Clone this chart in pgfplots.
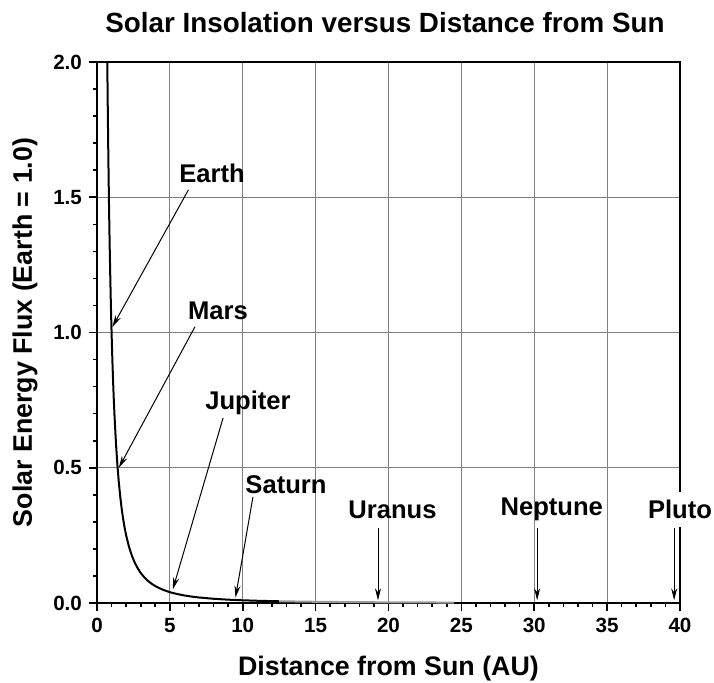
\documentclass[border=0pt]{standalone}
\usepackage{fontspec}
\setmainfont{Liberation Sans}
\usepackage{pgfplots}
\pgfplotsset{compat=1.18}
\usetikzlibrary{arrows.meta}
\begin{document}
\begin{tikzpicture}
\path[use as bounding box] (-48.5pt,-39.5pt) rectangle (308.5pt,301.5pt);
\begin{axis}[
  at={(0,0)}, anchor=south west,
  scale only axis, width=291.5pt, height=270.5pt,
  xmin=0, xmax=40, ymin=0, ymax=2,
  xtick={0,5,10,15,20,25,30,35,40}, ytick={0,0.5,1,1.5,2},
  minor x tick num=4, minor y tick num=4,
  xtick pos=bottom, ytick pos=left,
  tick align=outside, major tick length=4pt, minor tick length=2pt,
  xmajorgrids, ymajorgrids,
  grid style={black!50, line width=0.6pt},
  axis line style={line width=1pt},
  tick style={black, line width=0.8pt},
  /pgf/number format/assume math mode=true,
  yticklabel style={/pgf/number format/fixed, /pgf/number format/fixed zerofill, /pgf/number format/precision=1},
  ticklabel style={font=\fontsize{10.3}{12}\selectfont\bfseries},
  title={Solar Insolation versus Distance from Sun},
  title style={at={(axis description cs:0.494,1.0499)}, anchor=center, font=\fontsize{13.9}{16}\selectfont\bfseries},
  xlabel={Distance from Sun (AU)},
  xlabel style={at={(axis description cs:0.5,-0.122)}, anchor=center, font=\fontsize{13.4}{15}\selectfont\bfseries},
  ylabel={Solar Energy Flux (Earth = 1.0)},
  ylabel style={at={(axis description cs:-0.1235,0.5)}, anchor=center, font=\fontsize{13.4}{15}\selectfont\bfseries},
  clip=false,
]
\addplot[black, line width=1pt] coordinates {
(0.7071,2.000) (0.72,1.929) (0.74,1.826) (0.76,1.731) (0.78,1.644) (0.80,1.5625)
(0.825,1.469) (0.85,1.384) (0.875,1.306) (0.9,1.235) (0.95,1.108) (1.0,1.0)
(1.05,0.907) (1.1,0.826) (1.15,0.756) (1.2,0.694) (1.3,0.592) (1.4,0.510)
(1.5,0.444) (1.6,0.391) (1.7,0.346) (1.8,0.309) (1.9,0.277) (2.0,0.25)
(2.2,0.207) (2.4,0.174) (2.6,0.148) (2.8,0.128) (3.0,0.111) (3.25,0.0947)
(3.5,0.0816) (3.75,0.0711) (4.0,0.0625) (4.5,0.0494) (5.0,0.04) (5.5,0.0331)
(6.0,0.0278) (6.5,0.0237) (7.0,0.0204) (8.0,0.0156) (9.0,0.0123) (10,0.01)
(11,0.00826) (12.5,0.0064)
};
\addplot[black!40, line width=1pt] coordinates {
(12.5,0.0064) (15,0.00444) (17.5,0.00327) (20,0.0025) (22.5,0.00198) (24.5,0.00167)
};
\tikzset{lbl/.style={font=\fontsize{12.8}{14}\selectfont\bfseries, inner sep=1pt},
         arr/.style={-{Stealth[length=6pt,width=3pt]}, line width=0.5pt, black}}
\node[lbl] at (axis cs:7.9,1.59) {Earth};
\draw[arr] (axis cs:6.27,1.527) -- (axis cs:1.05,1.02);
\node[lbl] at (axis cs:8.3,1.079) {Mars};
\draw[arr] (axis cs:6.72,1.021) -- (axis cs:1.5,0.5);
\node[lbl] at (axis cs:10.36,0.739) {Jupiter};
\draw[arr] (axis cs:8.65,0.684) -- (axis cs:5.2,0.05);
\node[lbl] at (axis cs:12.97,0.436) {Saturn};
\draw[arr] (axis cs:10.7,0.392) -- (axis cs:9.5,0.02);
\node[lbl] at (axis cs:20.27,0.344) {Uranus};
\draw[arr] (axis cs:19.28,0.277) -- (axis cs:19.28,0.01);
\node[lbl] at (axis cs:31.2,0.347) {Neptune};
\draw[arr] (axis cs:30.2,0.277) -- (axis cs:30.2,0.01);
\node[lbl, fill=white, inner xsep=0.5pt, inner ysep=4pt] at (axis cs:40.0,0.347) {Pluto};
\draw[arr] (axis cs:39.6,0.277) -- (axis cs:39.6,0.01);
\end{axis}
\end{tikzpicture}
\end{document}
